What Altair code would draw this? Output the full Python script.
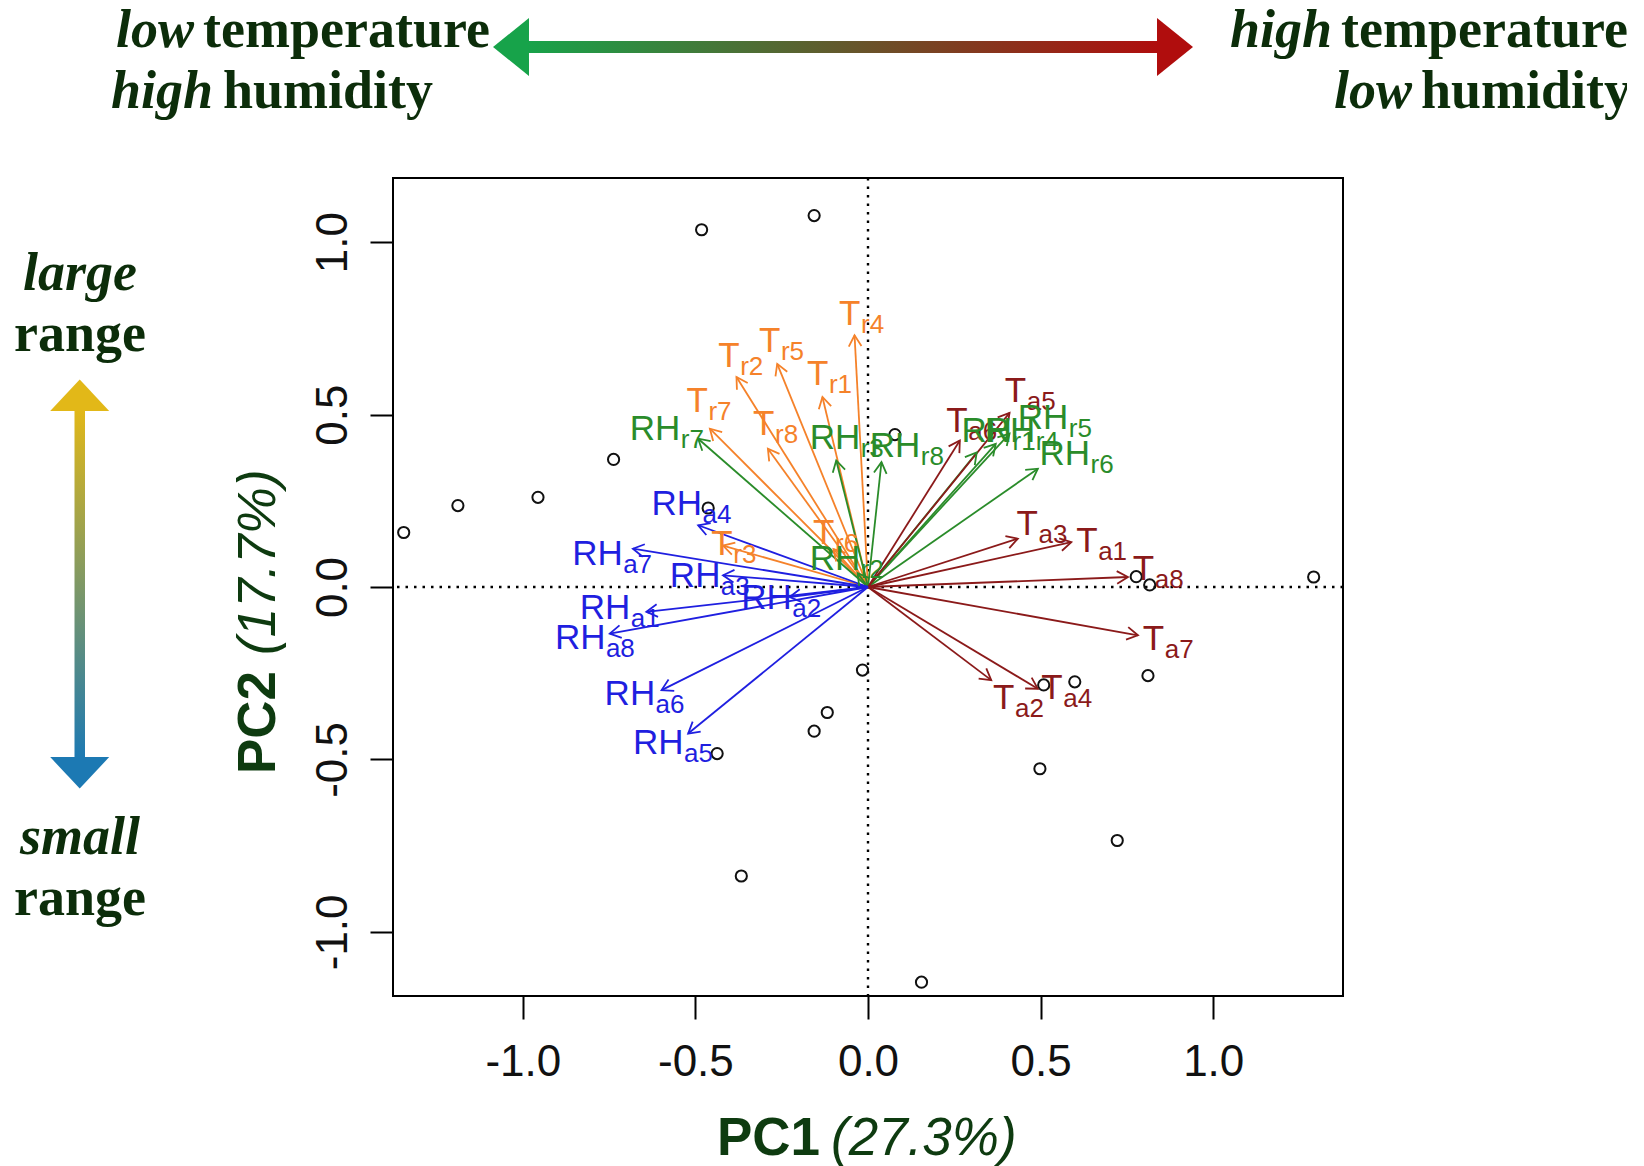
import altair as alt
import pandas as pd

# ---------------- data ----------------
score_pc1 = [-1.345, -1.188, -0.956, -0.737, -0.482, -0.156, -0.463, 0.078, 1.291, 0.777,
             0.816, 0.811, 0.509, 0.599, 0.498, 0.722, -0.016, -0.118, -0.156, -0.437,
             -0.367, 0.155]
score_pc2 = [0.158, 0.236, 0.260, 0.370, 1.036, 1.077, 0.229, 0.442, 0.029, 0.030,
             0.006, -0.257, -0.284, -0.275, -0.527, -0.735, -0.241, -0.364, -0.418, -0.483,
             -0.838, -1.146]

groups = ["Tr", "RHr", "Ta", "RHa"]
group_colors = ["#F5822A", "#2A8C2A", "#8B1A1A", "#1F1FE0"]

var_group = ["Tr"] * 8 + ["RHr"] * 8 + ["Ta"] * 8 + ["RHa"] * 8
var_main = ["T"] * 8 + ["RH"] * 8 + ["T"] * 8 + ["RH"] * 8
var_sub = ["r1", "r2", "r3", "r4", "r5", "r6", "r7", "r8",
           "r1", "r2", "r3", "r4", "r5", "r6", "r7", "r8",
           "a1", "a2", "a3", "a4", "a5", "a6", "a7", "a8",
           "a1", "a2", "a3", "a4", "a5", "a6", "a7", "a8"]
# arrow tips
load_pc1 = [-0.132, -0.381, -0.420, -0.039, -0.263, -0.100, -0.458, -0.290,
            0.315, -0.030, -0.092, 0.370, 0.410, 0.492, -0.492, 0.039,
            0.589, 0.357, 0.434, 0.492, 0.410, 0.266, 0.782, 0.753,
            -0.642, -0.227, -0.420, -0.492, -0.521, -0.598, -0.681, -0.748]
load_pc2 = [0.551, 0.609, 0.120, 0.730, 0.647, 0.110, 0.459, 0.401,
            0.390, 0.040, 0.367, 0.415, 0.445, 0.343, 0.430, 0.362,
            0.130, -0.270, 0.140, -0.295, 0.505, 0.425, -0.140, 0.029,
            -0.072, -0.029, 0.034, 0.179, -0.425, -0.299, 0.111, -0.135]
# label anchors (left edge / baseline of the main letters)
label_pc1 = [-0.177, -0.434, -0.454, -0.084, -0.316, -0.159, -0.526, -0.333,
             0.271, -0.169, -0.169, 0.338, 0.434, 0.497, -0.690, 0.005,
             0.603, 0.362, 0.430, 0.502, 0.396, 0.227, 0.796, 0.767,
             -0.835, -0.367, -0.574, -0.627, -0.681, -0.763, -0.857, -0.907]
label_pc2 = [0.585, 0.638, 0.092, 0.759, 0.681, 0.126, 0.507, 0.440,
             0.420, 0.048, 0.401, 0.420, 0.459, 0.353, 0.425, 0.377,
             0.101, -0.353, 0.150, -0.324, 0.536, 0.449, -0.183, 0.019,
             -0.092, -0.063, 0.000, 0.208, -0.483, -0.343, 0.063, -0.179]

tick_values = [-1.0, -0.5, 0.0, 0.5, 1.0]
x_domain = [-1.376, 1.376]
y_domain = [-1.186, 1.186]

x_title_bold, x_title_italic = "PC1", "(27.3%)"
y_title_bold, y_title_italic = "PC2", "(17.7%)"
top_left_lines = [("low", "temperature"), ("high", "humidity")]
top_right_lines = [("high", "temperature"), ("low", "humidity")]
side_words = [("large", "italic"), ("range", "normal"), ("small", "italic"), ("range", "normal")]

# ---------------- tables ----------------
scores = pd.DataFrame({"pc1": score_pc1, "pc2": score_pc2})
loads = pd.DataFrame({
    "grp": var_group, "main": var_main, "sub": var_sub,
    "x0": [0.0] * len(var_group), "y0": [0.0] * len(var_group),
    "tx": load_pc1, "ty": load_pc2, "lx": label_pc1, "ly": label_pc2,
})
zero = pd.DataFrame({"v": [0.0]})
one = pd.DataFrame({"k": [0]})

# ---------------- layout / style ----------------
W, H = 950, 818
PAD = {"left": 385, "top": 170, "right": 284, "bottom": 170}
DARK = "#0c2d0a"
TITLE_GREEN = "#0e3b10"
SERIF = "Liberation Serif"
SANS = "Liberation Sans"

xsc = alt.Scale(domain=x_domain, nice=False, zero=False)
ysc = alt.Scale(domain=y_domain, nice=False, zero=False)
lab_expr = "datum.value < 0 ? '-' + format(-datum.value, '.1f') : format(datum.value, '.1f')"
xax = alt.Axis(values=tick_values, labelExpr=lab_expr, tickSize=23, tickWidth=2,
               tickColor="black", domain=False, grid=False, labelFontSize=44,
               labelFont=SANS, labelColor="#111111", labelPadding=21, title=None)
yax = alt.Axis(values=tick_values, labelExpr=lab_expr, tickSize=23, tickWidth=2,
               tickColor="black", domain=False, grid=False, labelFontSize=44,
               labelFont=SANS, labelColor="#111111", labelPadding=24, labelAngle=270,
               labelAlign="center", labelBaseline="alphabetic", title=None)


def X(f):
    return alt.X(f + ":Q", scale=xsc, axis=xax, title=None)


def Y(f):
    return alt.Y(f + ":Q", scale=ysc, axis=yax, title=None)


col = alt.Color("grp:N", scale=alt.Scale(domain=groups, range=group_colors), legend=None)

layers = []
# zero reference lines
layers.append(alt.Chart(zero).mark_rule(color="black", strokeWidth=2.4, strokeDash=[2.5, 6])
              .encode(x=X("v")))
layers.append(alt.Chart(zero).mark_rule(color="black", strokeWidth=2.4, strokeDash=[2.5, 6])
              .encode(y=Y("v")))
# sample points
layers.append(alt.Chart(scores).mark_point(shape="circle", size=125, filled=False,
                                           color="#111111", strokeWidth=2, opacity=1)
              .encode(x=X("pc1"), y=Y("pc2")))
# arrow shafts
layers.append(alt.Chart(loads).mark_rule(strokeWidth=1.8)
              .encode(x=X("x0"), y=Y("y0"), x2="tx:Q", y2="ty:Q", color=col))
# arrow heads (open V)
layers.append(alt.Chart(loads)
              .transform_calculate(ang="(360 - atan2(datum.ty, datum.tx) * 180 / PI) % 360")
              .mark_point(shape="M-1,-0.577L0,0L-1,0.577", size=484, filled=False,
                          strokeWidth=1.8, opacity=1)
              .encode(x=X("tx"), y=Y("ty"), angle=alt.Angle("ang:Q", scale=None), color=col))
# labels
for main_txt, dx in (("T", 22), ("RH", 51)):
    sub_df = loads[loads["main"] == main_txt]
    layers.append(alt.Chart(sub_df).mark_text(align="left", baseline="alphabetic",
                                              fontSize=35, font=SANS)
                  .encode(x=X("lx"), y=Y("ly"), text="main:N", color=col))
    layers.append(alt.Chart(sub_df).mark_text(align="left", baseline="alphabetic",
                                              fontSize=26, font=SANS, dx=dx, dy=8)
                  .encode(x=X("lx"), y=Y("ly"), text="sub:N", color=col))


def txt(s, x, y, size, font, style="normal", weight="normal", align="left",
        color=DARK, angle=None):
    kw = dict(text=s, fontSize=size, font=font, fontStyle=style, fontWeight=weight,
              align=align, baseline="alphabetic", color=color, clip=False)
    if angle is not None:
        kw["angle"] = angle
    return alt.Chart(one).mark_text(**kw).encode(x=alt.value(x), y=alt.value(y))


# axis titles
layers.append(txt(x_title_bold, 427, 977, 53, SANS, weight="bold", align="right", color=TITLE_GREEN))
layers.append(txt(x_title_italic, 438, 977, 53, SANS, style="italic", align="left", color=TITLE_GREEN))
layers.append(txt(y_title_bold, -118, 493, 53, SANS, weight="bold", align="right",
                  color=TITLE_GREEN, angle=270))
layers.append(txt(y_title_italic, -118, 477, 53, SANS, style="italic", align="left",
                  color=TITLE_GREEN, angle=270))

# top annotations
top_base = [-131, -70]
left_join = [(-199, -190), (-180, -170)]
right_join = [(939, 948), (1019, 1028)]
for i, (it, rg) in enumerate(top_left_lines):
    a, b = left_join[i]
    layers.append(txt(it, a, top_base[i], 54, SERIF, style="italic", weight="bold", align="right"))
    layers.append(txt(rg, b, top_base[i], 54, SERIF, weight="bold", align="left"))
for i, (it, rg) in enumerate(top_right_lines):
    a, b = right_join[i]
    layers.append(txt(it, a, top_base[i], 54, SERIF, style="italic", weight="bold", align="right"))
    layers.append(txt(rg, b, top_base[i], 54, SERIF, weight="bold", align="left"))

# left-side words
side_base = [112, 173, 676, 737]
for (w, st), yb in zip(side_words, side_base):
    layers.append(txt(w, -313, yb, 54, SERIF, style=st, weight="bold", align="center"))

# horizontal gradient arrow
h_grad = alt.LinearGradient(gradient="linear", x1=0, x2=1, y1=0, y2=0,
                            stops=[alt.GradientStop(color="#17a34a", offset=0),
                                   alt.GradientStop(color="#b00d0d", offset=1)])
layers.append(alt.Chart(one).mark_rect(color=h_grad, clip=False)
              .encode(x=alt.value(134), x2=alt.value(767), y=alt.value(-137), y2=alt.value(-125)))
layers.append(alt.Chart(one).mark_point(shape="M-0.62,0L0.62,-1L0.62,1Z", size=3364, filled=True,
                                        color="#17a34a", opacity=1, clip=False)
              .encode(x=alt.value(118), y=alt.value(-131)))
layers.append(alt.Chart(one).mark_point(shape="M0.62,0L-0.62,-1L-0.62,1Z", size=3364, filled=True,
                                        color="#b00d0d", opacity=1, clip=False)
              .encode(x=alt.value(782), y=alt.value(-131)))

# vertical gradient arrow
v_grad = alt.LinearGradient(gradient="linear", x1=0, x2=0, y1=0, y2=1,
                            stops=[alt.GradientStop(color="#e2b818", offset=0),
                                   alt.GradientStop(color="#1c79b3", offset=1)])
layers.append(alt.Chart(one).mark_rect(color=v_grad, clip=False)
              .encode(x=alt.value(-318.5), x2=alt.value(-308), y=alt.value(231), y2=alt.value(581)))
layers.append(alt.Chart(one).mark_point(shape="M0,-0.534L1,0.534L-1,0.534Z", size=3481, filled=True,
                                        color="#e2b818", opacity=1, clip=False)
              .encode(x=alt.value(-313.3), y=alt.value(217.3)))
layers.append(alt.Chart(one).mark_point(shape="M0,0.534L1,-0.534L-1,-0.534Z", size=3481, filled=True,
                                        color="#1c79b3", opacity=1, clip=False)
              .encode(x=alt.value(-313.3), y=alt.value(594.8)))

chart = (alt.layer(*layers)
         .properties(width=W, height=H, autosize=alt.AutoSizeParams(type="none"), padding=PAD,
                     background="white")
         .configure_view(stroke="black", strokeWidth=2))

chart.save("out.html", embed_options={"renderer": "svg", "actions": False})
